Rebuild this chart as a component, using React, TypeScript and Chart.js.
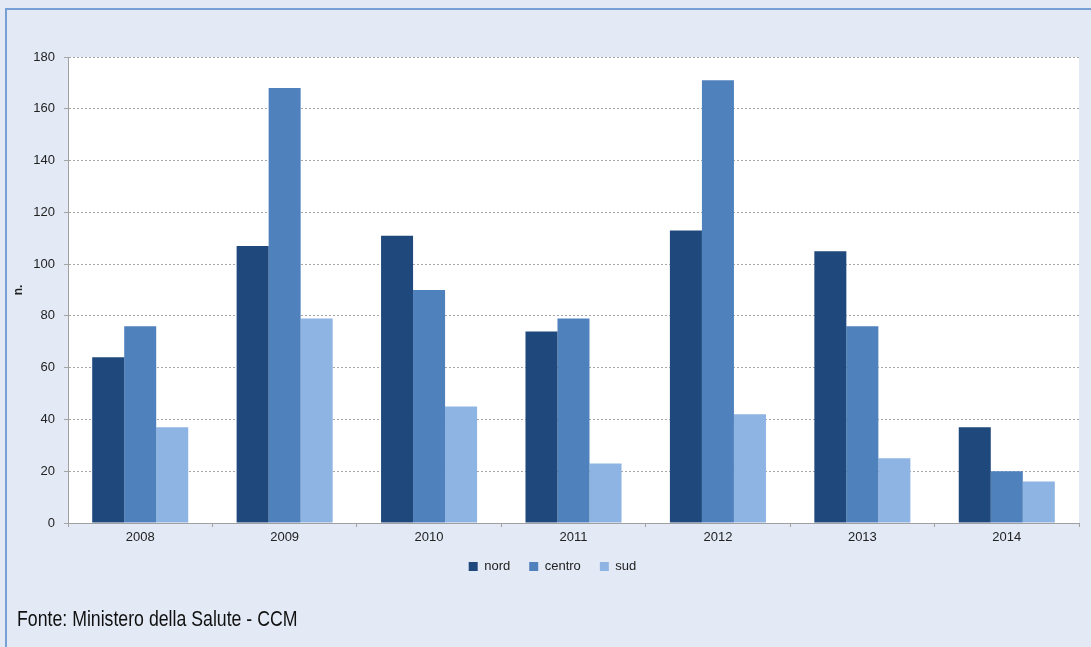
import React, { useEffect, useRef } from "react";
import { Chart, registerables } from "chart.js";

Chart.register(...registerables);

const years = ["2008", "2009", "2010", "2011", "2012", "2013", "2014"];
const nord = [64, 107, 111, 74, 113, 105, 37];
const centro = [76, 168, 90, 79, 171, 76, 20];
const sud = [37, 79, 45, 23, 42, 25, 16];
const yTicks = [0, 20, 40, 60, 80, 100, 120, 140, 160, 180];
const yTitle = "n.";
const footer = "Fonte: Ministero della Salute - CCM";

const plotBg = {
  id: "plotBg",
  beforeDraw(chart: any) {
    const { ctx, chartArea } = chart;
    ctx.save();
    ctx.fillStyle = "#ffffff";
    ctx.fillRect(chartArea.left, chartArea.top, chartArea.right - chartArea.left, chartArea.bottom - chartArea.top);
    ctx.restore();
  },
};

export default function App() {
  const ref = useRef<HTMLCanvasElement | null>(null);

  useEffect(() => {
    document.body.style.margin = "0";
    const chart = new Chart(ref.current as HTMLCanvasElement, {
      type: "bar",
      data: {
        labels: years,
        datasets: [
          { label: "nord", data: nord, backgroundColor: "#1f497d", borderWidth: 0 },
          { label: "centro", data: centro, backgroundColor: "#4f81bd", borderWidth: 0 },
          { label: "sud", data: sud, backgroundColor: "#8eb4e3", borderWidth: 0 },
        ],
      },
      plugins: [plotBg],
      options: {
        responsive: false,
        animation: false,
        layout: { padding: { left: 26, top: 57, right: 12, bottom: 64 } },
        datasets: { bar: { categoryPercentage: 0.665, barPercentage: 1 } },
        plugins: {
          legend: {
            position: "bottom",
            labels: {
              boxWidth: 9,
              boxHeight: 9,
              padding: 19,
              color: "#222",
              font: { family: "Liberation Sans, Arial", size: 13 },
            },
          },
          tooltip: { enabled: false },
        },
        scales: {
          x: {
            afterFit(scale: any) {
              scale.height = 18;
            },
            grid: {
              display: true,
              drawOnChartArea: false,
              drawTicks: true,
              tickLength: 4,
              color: "#a0a0a0",
              offset: true,
            },
            border: { display: true, color: "#a0a0a0", width: 1 },
            ticks: {
              color: "#222",
              padding: 3,
              font: { family: "Liberation Sans, Arial", size: 13 },
            },
          },
          y: {
            min: 0,
            max: 180,
            afterFit(scale: any) {
              scale.width = 42;
            },
            afterBuildTicks(scale: any) {
              scale.ticks = yTicks.map((v) => ({ value: v }));
            },
            grid: {
              color: "#a6a6a6",
              tickLength: 4,
              drawTicks: true,
            },
            border: { display: true, color: "#a0a0a0", width: 1, dash: [2, 2] },
            ticks: {
              color: "#222",
              padding: 9,
              font: { family: "Liberation Sans, Arial", size: 13 },
            },
            title: {
              display: true,
              text: yTitle,
              color: "#222",
              padding: { top: -15, bottom: 0 },
              font: { family: "Liberation Sans, Arial", size: 12, weight: "bold" },
            },
          },
        },
      },
    } as any);
    return () => chart.destroy();
  }, []);

  return (
    <div
      style={{
        position: "relative",
        width: 1091,
        height: 647,
        overflow: "hidden",
        background: "#e3eaf6",
      }}
    >
      <div
        style={{
          position: "absolute",
          left: 5,
          top: 8,
          width: 1100,
          height: 700,
          borderTop: "2px solid #76a0d6",
          borderLeft: "2px solid #76a0d6",
          boxSizing: "border-box",
        }}
      />
      <canvas ref={ref} width={1091} height={647} style={{ position: "absolute", left: 0, top: 0 }} />
      <div
        style={{
          position: "absolute",
          left: 17,
          top: 606,
          fontFamily: "'Liberation Sans', Arial",
          fontSize: 22,
          color: "#111",
          whiteSpace: "nowrap",
          lineHeight: "26px",
          transform: "scaleX(0.805)",
          transformOrigin: "left top",
        }}
      >
        {footer}
      </div>
    </div>
  );
}
